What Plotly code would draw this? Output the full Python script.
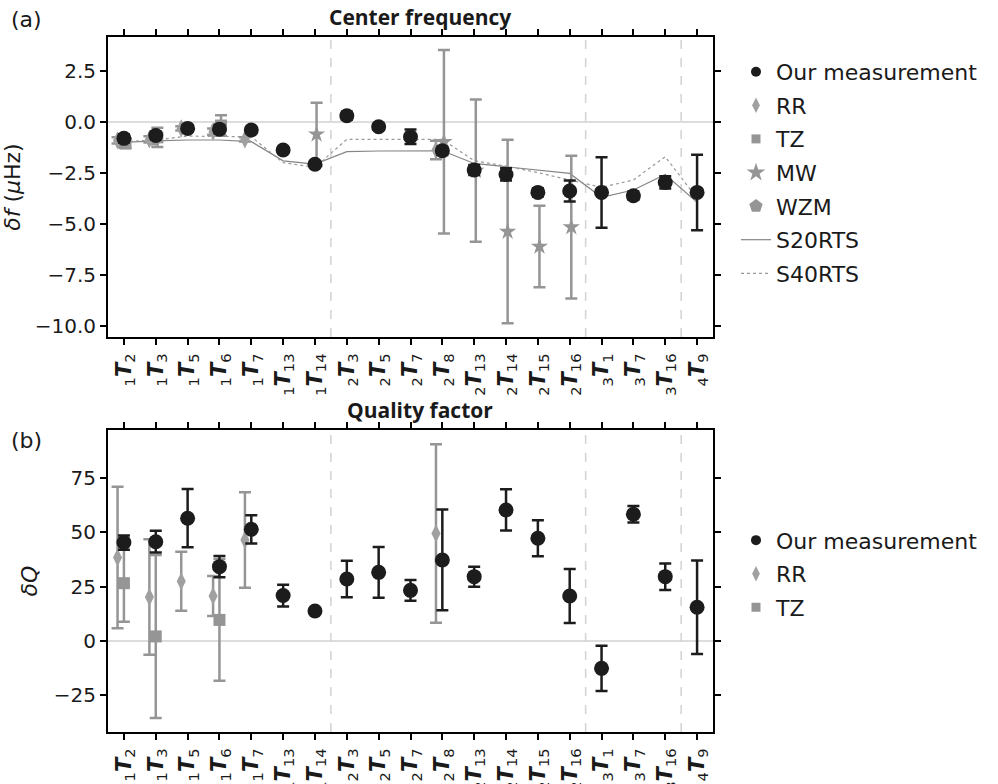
import plotly.graph_objects as go
from plotly.subplots import make_subplots

# Mode labels: overtone number n and angular degree l for each multiplet nTl
mode_n = [1, 1, 1, 1, 1, 1, 1, 2, 2, 2, 2, 2, 2, 2, 2, 3, 3, 3, 4]
mode_l = [2, 3, 5, 6, 7, 13, 14, 3, 5, 7, 8, 13, 14, 15, 16, 1, 7, 16, 9]
mode_labels = [f"<sub>{n}</sub><b><i>T</i></b><sub>{l}</sub>" for n, l in zip(mode_n, mode_l)]

# (a) centre-frequency shifts, microhertz
df_ours = [-0.80, -0.66, -0.31, -0.35, -0.39, -1.37, -2.07, 0.31, -0.23, -0.72,
           -1.41, -2.35, -2.57, -3.45, -3.38, -3.45, -3.61, -2.96, -3.45]
df_ours_err = [0.20, 0.20, 0.15, 0.20, 0.15, 0.15, 0.15, 0.20, 0.15, 0.36,
               0.20, 0.25, 0.30, 0.20, 0.52, 1.73, 0.20, 0.30, 1.85]

rr_modes = ["1T2", "1T3", "1T5", "1T6", "1T7", "2T8"]
df_rr = [-0.90, -0.85, -0.31, -0.47, -0.85, -1.37]
df_rr_err = [0.15, 0.15, 0.10, 0.15, 0.10, 0.45]

tz_modes = ["1T2", "1T3", "1T6"]
df_tz = [-1.05, -0.75, -0.17]
df_tz_err = [0.22, 0.47, 0.50]

mw_modes = ["1T14", "2T8", "2T13", "2T14", "2T15", "2T16"]
df_mw = [-0.60, -0.97, -2.38, -5.37, -6.10, -5.15]
df_mw_err = [1.55, 4.50, 3.49, 4.50, 2.00, 3.50]

wzm_modes = ["1T2", "1T3", "1T6"]
df_wzm = [-1.00, -0.85, -0.28]

df_s20rts = [-1.00, -0.92, -0.88, -0.88, -0.96, -1.90, -2.06, -1.45, -1.42, -1.40,
             -1.41, -2.03, -2.19, -2.35, -2.52, -3.69, -3.33, -2.57, -3.94]
df_s40rts = [-0.96, -0.88, -0.69, -0.69, -0.72, -1.99, -2.22, -0.85, -0.85, -0.85,
             -0.85, -1.90, -2.16, -2.48, -2.84, -3.20, -2.84, -1.70, -3.74]

# (b) quality-factor shifts
dq_ours = [45.3, 45.7, 56.5, 34.2, 51.4, 20.9, 13.8, 28.5, 31.6, 23.3,
           37.3, 29.6, 60.3, 47.3, 20.7, -12.6, 58.3, 29.6, 15.5]
dq_ours_err = [3.3, 5.0, 13.4, 4.9, 6.5, 5.0, 1.0, 8.4, 11.7, 4.8,
               23.2, 4.6, 9.5, 8.3, 12.4, 10.4, 3.8, 6.1, 21.5]

dq_rr = [38.4, 20.2, 27.5, 20.7, 46.5, 49.5]
dq_rr_err = [32.6, 26.6, 13.6, 9.2, 22.0, 41.1]

dq_tz = [26.6, 2.1, 9.7]
dq_tz_err = [17.8, 37.5, 28.0]

# overtone-branch boundaries (between categories)
branch_breaks = [6.5, 14.5, 17.5]

keys = [f"{n}T{l}" for n, l in zip(mode_n, mode_l)]
idx = {k: i for i, k in enumerate(keys)}


def xpos(modes, shift=0.0):
    return [idx[m] + shift for m in modes]


BLACK = "#1c1c1c"
GRAY = "#959595"
GRAY_LT = "#a0a0a0"
FONT = "DejaVu Sans"

# marker / line styles for each data set (data size, legend size)
styles = {
    "Our measurement": dict(symbol="circle", color=BLACK, size=15, lsize=10),
    "RR": dict(symbol="diamond-tall", color=GRAY_LT, size=13, lsize=11),
    "TZ": dict(symbol="square", color=GRAY, size=12, lsize=9),
    "MW": dict(symbol="star", color=GRAY, size=13, lsize=14),
    "WZM": dict(symbol="pentagon", color=GRAY, size=15, lsize=14),
}
line_styles = {
    "S20RTS": dict(color="#858585", width=1.2, dash="solid"),
    "S40RTS": dict(color="#9a9a9a", width=1.2, dash="dot"),
}

fig = make_subplots(rows=2, cols=1, shared_xaxes=False, vertical_spacing=0.134)
xs = list(range(len(keys)))


def points(name, x, y, err, row):
    st = styles[name]
    kw = dict(x=x, y=y, mode="markers", name=name, showlegend=False,
              marker=dict(symbol=st["symbol"], size=st["size"], color=st["color"]))
    if err is not None:
        ec = BLACK if name == "Our measurement" else GRAY
        kw["error_y"] = dict(type="data", array=err, color=ec, thickness=2.5, width=6)
    fig.add_trace(go.Scatter(**kw), row=row, col=1)


def legend_entry(name, legend, rank, row):
    if name in line_styles:
        fig.add_trace(go.Scatter(x=[None], y=[None], mode="lines", name=name,
                                 line=line_styles[name], legend=legend,
                                 legendgroup=f"{legend}-{name}", legendrank=rank), row=row, col=1)
    else:
        st = styles[name]
        fig.add_trace(go.Scatter(x=[None], y=[None], mode="markers", name=name,
                                 marker=dict(symbol=st["symbol"], size=st["lsize"], color=st["color"]),
                                 legend=legend, legendgroup=f"{legend}-{name}",
                                 legendrank=rank), row=row, col=1)


# ---------- (a) centre frequency ----------
for name, vals in [("S20RTS", df_s20rts), ("S40RTS", df_s40rts)]:
    fig.add_trace(go.Scatter(x=xs, y=vals, mode="lines", name=name, showlegend=False,
                             line=line_styles[name]), row=1, col=1)
points("TZ", xpos(tz_modes, 0.05), df_tz, df_tz_err, 1)
points("WZM", xpos(wzm_modes, -0.05), df_wzm, None, 1)
points("RR", xpos(rr_modes, -0.2), df_rr, df_rr_err, 1)
points("MW", xpos(mw_modes, 0.05), df_mw, df_mw_err, 1)
points("Our measurement", xs, df_ours, df_ours_err, 1)

for rank, name in enumerate(["Our measurement", "RR", "TZ", "MW", "WZM", "S20RTS", "S40RTS"], 1):
    legend_entry(name, "legend", rank, 1)

# ---------- (b) quality factor ----------
points("RR", xpos(rr_modes, -0.2), dq_rr, dq_rr_err, 2)
points("TZ", xpos(tz_modes, 0.0), dq_tz, dq_tz_err, 2)
points("Our measurement", xs, dq_ours, dq_ours_err, 2)

for rank, name in enumerate(["Our measurement", "RR", "TZ"], 1):
    legend_entry(name, "legend2", rank, 2)

# reference lines
for xref, yref in [("x", "y"), ("x2", "y2")]:
    fig.add_shape(type="line", xref=f"{xref} domain", yref=yref, x0=0, x1=1, y0=0, y1=0,
                  line=dict(color="#d2d2d2", width=1.5), layer="below")
    for b in branch_breaks:
        fig.add_shape(type="line", xref=xref, yref=f"{yref} domain", x0=b, x1=b, y0=0, y1=1,
                      line=dict(color="#d2d2d2", width=1.5, dash="dash"), layer="below")

axis_common = dict(showline=True, linewidth=2, linecolor="black", mirror="ticks",
                   ticks="outside", ticklen=6, tickwidth=1.5, tickcolor="black",
                   showgrid=False, zeroline=False, automargin=False)

for r in (1, 2):
    fig.update_xaxes(range=[-0.5, 18.5], tickmode="array", tickvals=xs, ticktext=mode_labels,
                     tickangle=-90, tickfont=dict(family=FONT, size=21, color="#1a1a1a"),
                     row=r, col=1, **axis_common)

fig.update_yaxes(range=[-10.54, 4.17], tickvals=[2.5, 0, -2.5, -5, -7.5, -10], tickformat=".1f",
                 tickfont=dict(family=FONT, size=20, color="#1a1a1a"),
                 title=dict(text="<i>δf</i> (<i>μ</i>Hz)", font=dict(family=FONT, size=22, color="#1a1a1a"),
                            standoff=10),
                 row=1, col=1, **axis_common)
fig.update_yaxes(range=[-41.9, 97.1], tickvals=[75, 50, 25, 0, -25],
                 tickfont=dict(family=FONT, size=20, color="#1a1a1a"),
                 title=dict(text="<i>δQ</i>", font=dict(family=FONT, size=22, color="#1a1a1a"),
                            standoff=10),
                 row=2, col=1, **axis_common)

legend_font = dict(family=FONT, size=22, color="#1a1a1a")
fig.update_layout(
    width=998, height=784,
    margin=dict(l=108, r=285, t=37, b=52),
    paper_bgcolor="white", plot_bgcolor="white",
    font=dict(family=FONT, color="#1a1a1a"),
    yaxis=dict(domain=[0.5683, 1.0]),
    yaxis2=dict(domain=[0.0, 0.4345]),
    legend=dict(x=1.038, y=0.98, xanchor="left", yanchor="top", bgcolor="rgba(0,0,0,0)",
                font=legend_font, itemsizing="trace", tracegroupgap=2),
    legend2=dict(x=1.038, y=0.306, xanchor="left", yanchor="top", bgcolor="rgba(0,0,0,0)",
                 font=legend_font, itemsizing="trace", tracegroupgap=2),
    showlegend=True,
    annotations=[
        dict(text="<b>Center frequency</b>", x=0.516, y=1.0288, xref="paper", yref="paper",
             xanchor="center", yanchor="middle", showarrow=False,
             font=dict(family="Open Sans", size=21, color="#1a1a1a")),
        dict(text="<b>Quality factor</b>", x=0.516, y=0.4633, xref="paper", yref="paper",
             xanchor="center", yanchor="middle", showarrow=False,
             font=dict(family="Open Sans", size=21, color="#1a1a1a")),
        dict(text="(a)", x=-0.134, y=1.0245, xref="paper", yref="paper",
             xanchor="center", yanchor="middle", showarrow=False,
             font=dict(family=FONT, size=22, color="#1a1a1a")),
        dict(text="(b)", x=-0.134, y=0.4201, xref="paper", yref="paper",
             xanchor="center", yanchor="middle", showarrow=False,
             font=dict(family=FONT, size=22, color="#1a1a1a")),
    ],
)

fig.write_html("out.html")
